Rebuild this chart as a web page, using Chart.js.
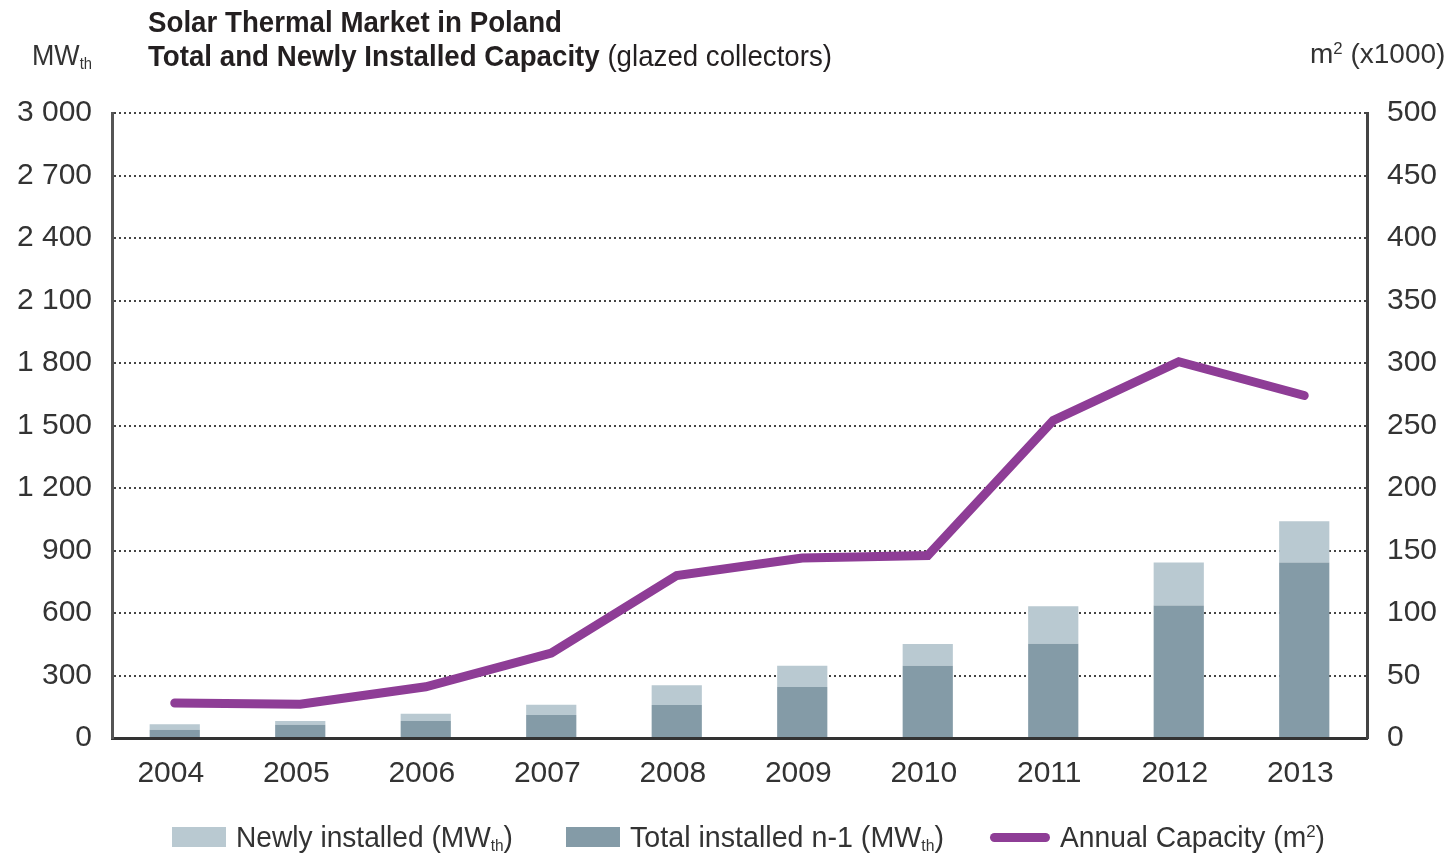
<!DOCTYPE html>
<html>
<head>
<meta charset="utf-8">
<script src="https://cdn.jsdelivr.net/npm/chart.js@4.4.1/dist/chart.umd.min.js"></script>
<style>
  html, body { margin: 0; padding: 0; background: #fff; }
  #wrap { position: relative; width: 1455px; height: 855px; overflow: hidden; }
  #chart { position: absolute; left: 0; top: 0; }
  .txt { position: absolute; white-space: nowrap; color: #231f20; line-height: 1; transform-origin: 0 50%; }
  .sans { font-family: 'Liberation Sans', Arial, sans-serif; }
  sub { font-size: 55%; vertical-align: -0.25em; line-height: 0; }
  sup { font-size: 60%; vertical-align: 0.55em; line-height: 0; }
  #legend { position: absolute; left: 0; top: 820px; width: 1455px; height: 34px; }
  .lg-item { position: absolute; top: 0; display: flex; align-items: center; height: 34px; font-size: 29px; color: #333; }
  .lg-box { width: 54px; height: 20px; margin-right: 10px; flex: none; }
  .lg-line { width: 60px; height: 9px; border-radius: 5px; margin-right: 10px; flex: none; }
  .lg-label { display: inline-block; white-space: nowrap; transform-origin: 0 50%; }
</style>
</head>
<body>
<div id="wrap">
  <canvas id="chart" width="1455" height="855"></canvas>
  <div class="txt sans fit" data-w="414" style="left:148px; top:7px; font-size:30px; font-weight:bold;">Solar Thermal Market in Poland</div>
  <div class="txt sans fit" data-w="684" style="left:148px; top:41px; font-size:30px;"><b>Total and Newly Installed Capacity</b> (glazed collectors)</div>
  <div class="txt sans fit" data-w="60" style="left:32px; top:41px; font-size:29px; color:#333;">MW<sub>th</sub></div>
  <div class="txt sans" style="left:1310px; top:40px; font-size:28px; color:#333;">m<sup>2</sup> (x1000)</div>
  <div id="legend" class="sans"></div>
</div>
<script>
const YEARS = ['2004', '2005', '2006', '2007', '2008', '2009', '2010', '2011', '2012', '2013'];
// MWth
const TOTAL_PREV = [40, 64, 82, 110, 158, 245, 347, 452, 636, 842];
const NEWLY = [26, 18, 35, 50, 95, 102, 104, 180, 206, 198];
// thousand m2, right axis
const ANNUAL_M2 = [28, 27, 41, 68, 130, 144, 146, 254, 301, 274];

const LEFT_MAX = 3000;
const LEFT_STEP = 300;
const RIGHT_MAX = 500;
const RIGHT_STEP = 50;

const LIGHT = '#b9c9d1';
const DARK = '#849ba7';
const PURPLE = '#8e3d96';
const TICK_COLOR = '#333';

const LEGEND = [
  { html: 'Newly installed (MW<sub>th</sub>)', color: LIGHT, kind: 'box', x: 172, w: 277 },
  { html: 'Total installed n-1 (MW<sub>th</sub>)', color: DARK, kind: 'box', x: 566, w: 314 },
  { html: 'Annual Capacity (m<sup>2</sup>)', color: PURPLE, kind: 'line', x: 990, w: 265 },
];

function fmtThousands(v) {
  // 3000 -> "3 000"
  if (v < 1000) return String(v);
  return Math.floor(v / 1000) + ' ' + String(v % 1000).padStart(3, '0');
}

// no narrow font installed, so squeeze the regular one to the reference width
function fitWidth(el, target) {
  const w = el.getBoundingClientRect().width;
  if (w > 0) el.style.transform = `scaleX(${target / w})`;
}

const tickFont = { family: "'Liberation Sans', Arial, sans-serif", size: 30 };

new Chart(document.getElementById('chart'), {
  type: 'bar',
  data: {
    labels: YEARS,
    datasets: [
      {
        type: 'line',
        label: 'Annual Capacity (m2)',
        data: ANNUAL_M2,
        yAxisID: 'y1',
        borderColor: PURPLE,
        borderWidth: 9,
        borderCapStyle: 'round',
        pointRadius: 0,
        tension: 0,
        order: 0,
      },
      {
        label: 'Total installed n-1 (MWth)',
        data: TOTAL_PREV,
        backgroundColor: DARK,
        yAxisID: 'y',
        stack: 's',
        order: 1,
        categoryPercentage: 0.4,
        barPercentage: 1,
      },
      {
        label: 'Newly installed (MWth)',
        data: NEWLY,
        backgroundColor: LIGHT,
        yAxisID: 'y',
        stack: 's',
        order: 1,
        categoryPercentage: 0.4,
        barPercentage: 1,
      },
    ],
  },
  options: {
    responsive: false,
    maintainAspectRatio: false,
    animation: false,
    layout: { padding: { top: 113, left: 0, right: 0, bottom: 0 } },
    plugins: { legend: { display: false }, tooltip: { enabled: false } },
    scales: {
      x: {
        stacked: true,
        grid: { drawOnChartArea: false, drawTicks: false },
        border: { display: true, color: '#333', width: 3 },
        ticks: { color: TICK_COLOR, font: tickFont, padding: 18, labelOffset: -4 },
        afterFit: s => { s.height = 117; },
      },
      y: {
        stacked: true,
        min: 0,
        max: LEFT_MAX,
        grid: { color: '#444', lineWidth: 2, drawTicks: false },
        border: { display: true, color: '#555', width: 3, dash: [2, 3] },
        ticks: { stepSize: LEFT_STEP, color: TICK_COLOR, font: tickFont, padding: 20, callback: v => fmtThousands(v) },
        afterFit: s => { s.width = 112; },
      },
      y1: {
        position: 'right',
        min: 0,
        max: RIGHT_MAX,
        grid: { drawOnChartArea: false, drawTicks: false },
        border: { display: true, color: '#444', width: 3 },
        ticks: { stepSize: RIGHT_STEP, color: TICK_COLOR, font: tickFont, padding: 20 },
        afterFit: s => { s.width = 88; },
      },
    },
  },
});

function renderLegend() {
  const el = document.getElementById('legend');
  LEGEND.forEach(item => {
    const div = document.createElement('div');
    div.className = 'lg-item';
    div.style.left = item.x + 'px';
    const mark = document.createElement('span');
    mark.className = item.kind === 'box' ? 'lg-box' : 'lg-line';
    mark.style.background = item.color;
    const label = document.createElement('span');
    label.className = 'lg-label';
    label.innerHTML = item.html;
    div.appendChild(mark);
    div.appendChild(label);
    el.appendChild(div);
    fitWidth(label, item.w);
  });
}

renderLegend();
document.querySelectorAll('.fit').forEach(el => fitWidth(el, +el.dataset.w));
</script>
</body>
</html>
